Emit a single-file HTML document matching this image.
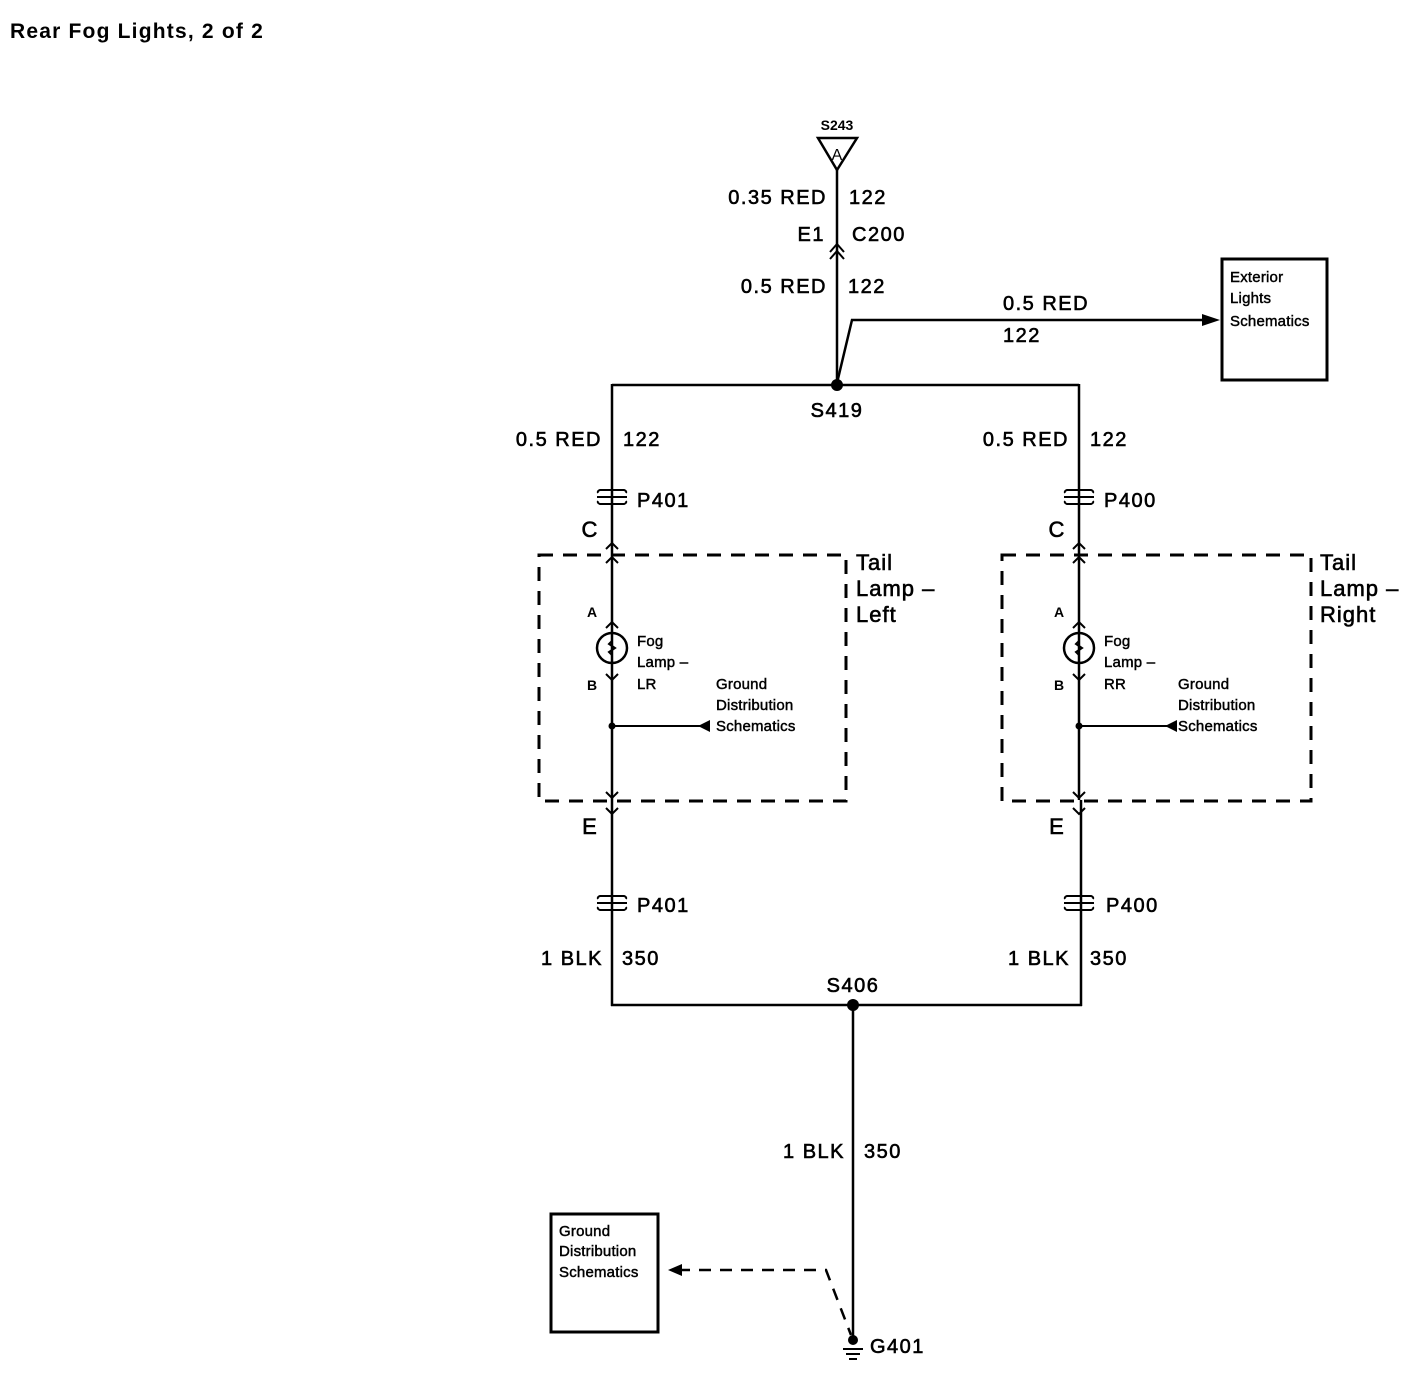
<!DOCTYPE html>
<html><head><meta charset="utf-8"><style>
html,body{margin:0;padding:0;background:#fff;}
svg{display:block;}
text{font-family:"Liberation Sans",Arial,sans-serif;fill:#000;}
.w{font-size:20px;letter-spacing:1.5px;stroke:#000;stroke-width:0.6px;}
.t{font-size:22px;letter-spacing:1px;stroke:#000;stroke-width:0.6px;}
.s{font-size:15px;letter-spacing:0.2px;stroke:#000;stroke-width:0.45px;}
.p{font-size:14px;font-weight:bold;}
</style></head><body>
<svg width="1414" height="1392" viewBox="0 0 1414 1392" xmlns="http://www.w3.org/2000/svg">
<text x="10" y="38" style="font-size:21px;font-weight:bold;letter-spacing:1.2px">Rear Fog Lights, 2 of 2</text>

<g stroke="#000" fill="none" stroke-width="2.5">
<path d="M818 138 L857 138 L837 170 Z"/>
<line x1="837" y1="170" x2="837" y2="385"/>
<path d="M830 252 L837 244 L844 252" stroke-width="2"/>
<path d="M830 259 L837 251 L844 259" stroke-width="2"/>
<path d="M837 383 L852 320 L1210 320"/>
<rect x="1222" y="259" width="105" height="121" stroke-width="3"/>
<line x1="612" y1="385" x2="1079" y2="385"/>
<line x1="612" y1="384" x2="612" y2="1006"/>
<line x1="1079" y1="384" x2="1079" y2="800"/>
<line x1="1081" y1="800" x2="1081" y2="1006"/>
<line x1="611" y1="1005" x2="1082" y2="1005"/>
<line x1="853" y1="1005" x2="853" y2="1340"/>
<rect x="551" y="1214" width="107" height="118" stroke-width="3"/>
<path d="M678 1270 L826 1270 L851 1335" stroke-dasharray="12,9"/>
<rect x="539" y="555" width="307" height="246" stroke-dasharray="14,10" stroke-width="3"/>
<rect x="1002" y="555" width="309" height="246" stroke-dasharray="14,10" stroke-width="3"/>
</g>

<path d="M1202 314 L1220 320 L1202 326 Z"/>
<path d="M668 1270 L682 1264 L682 1276 Z"/>
<circle cx="837" cy="385" r="6"/>
<circle cx="853" cy="1005" r="6"/>
<circle cx="853" cy="1340" r="5"/>
<g stroke="#000" stroke-width="2">
<line x1="843" y1="1349" x2="863" y2="1349"/>
<line x1="846" y1="1354" x2="860" y2="1354"/>
<line x1="849" y1="1359" x2="857" y2="1359"/>
</g>

<g id="L">
<g stroke="#000" fill="none" stroke-width="2">
<path d="M598 493 Q597 491 600 490 L624 490 Q627 491 626 493"/>
<path d="M598 501 Q597 503 600 504 L624 504 Q627 503 626 501"/>
<line x1="597" y1="497" x2="627" y2="497"/>
<path d="M606 549 L612 543 L618 549"/>
<path d="M606 563 L612 557 L618 563"/>
<path d="M606 628 L612 622 L618 628"/>
<circle cx="612" cy="648" r="15" stroke-width="2.5"/>
<path d="M612 636 L612 641 L609 644 L615 648 L609 652 L612 655 L612 660"/>
<path d="M606 674 L612 680 L618 674"/>
<line x1="612" y1="726" x2="700" y2="726"/>
<path d="M606 792 L612 798 L618 792"/>
<path d="M606 808 L612 814 L618 808"/>
<path d="M598 899 Q597 897 600 896 L624 896 Q627 897 626 899"/>
<path d="M598 907 Q597 909 600 910 L624 910 Q627 909 626 907"/>
<line x1="597" y1="903" x2="627" y2="903"/>
</g>
<circle cx="612" cy="726" r="3.5"/>
<path d="M698 726 L710 720 L710 732 Z"/>
<text class="t" x="590" y="537" text-anchor="middle">C</text>
<text class="p" x="592" y="617" text-anchor="middle">A</text>
<text class="p" x="592" y="690" text-anchor="middle">B</text>
<text class="t" x="590" y="834" text-anchor="middle">E</text>
</g>
<use href="#L" transform="translate(467,0)"/>

<text class="p" x="837" y="130" text-anchor="middle">S243</text>
<text x="837" y="160" text-anchor="middle" style="font-size:16px">A</text>
<text class="w" x="827" y="204" text-anchor="end">0.35 RED</text>
<text class="w" x="849" y="204">122</text>
<text class="w" x="825" y="241" text-anchor="end">E1</text>
<text class="w" x="852" y="241">C200</text>
<text class="w" x="827" y="293" text-anchor="end">0.5 RED</text>
<text class="w" x="848" y="293">122</text>
<text class="w" x="1003" y="310">0.5 RED</text>
<text class="w" x="1003" y="342">122</text>
<text class="s" x="1230" y="282">Exterior</text>
<text class="s" x="1230" y="303">Lights</text>
<text class="s" x="1230" y="326">Schematics</text>
<text class="w" x="837" y="417" text-anchor="middle">S419</text>
<text class="w" x="602" y="446" text-anchor="end">0.5 RED</text>
<text class="w" x="623" y="446">122</text>
<text class="w" x="1069" y="446" text-anchor="end">0.5 RED</text>
<text class="w" x="1090" y="446">122</text>
<text class="w" x="637" y="507">P401</text>
<text class="w" x="1104" y="507">P400</text>
<text class="t" x="856" y="570">Tail</text>
<text class="t" x="856" y="596">Lamp –</text>
<text class="t" x="856" y="622">Left</text>
<text class="t" x="1320" y="570">Tail</text>
<text class="t" x="1320" y="596">Lamp –</text>
<text class="t" x="1320" y="622">Right</text>
<text class="s" x="637" y="646">Fog</text>
<text class="s" x="637" y="667">Lamp –</text>
<text class="s" x="637" y="689">LR</text>
<text class="s" x="1104" y="646">Fog</text>
<text class="s" x="1104" y="667">Lamp –</text>
<text class="s" x="1104" y="689">RR</text>
<text class="s" x="716" y="689">Ground</text>
<text class="s" x="716" y="710">Distribution</text>
<text class="s" x="716" y="731">Schematics</text>
<text class="s" x="1178" y="689">Ground</text>
<text class="s" x="1178" y="710">Distribution</text>
<text class="s" x="1178" y="731">Schematics</text>
<text class="w" x="637" y="912">P401</text>
<text class="w" x="1106" y="912">P400</text>
<text class="w" x="603" y="965" text-anchor="end">1 BLK</text>
<text class="w" x="622" y="965">350</text>
<text class="w" x="1070" y="965" text-anchor="end">1 BLK</text>
<text class="w" x="1090" y="965">350</text>
<text class="w" x="853" y="992" text-anchor="middle">S406</text>
<text class="w" x="845" y="1158" text-anchor="end">1 BLK</text>
<text class="w" x="864" y="1158">350</text>
<text class="s" x="559" y="1236">Ground</text>
<text class="s" x="559" y="1256">Distribution</text>
<text class="s" x="559" y="1277">Schematics</text>
<text class="w" x="870" y="1353">G401</text>
</svg>
</body></html>
